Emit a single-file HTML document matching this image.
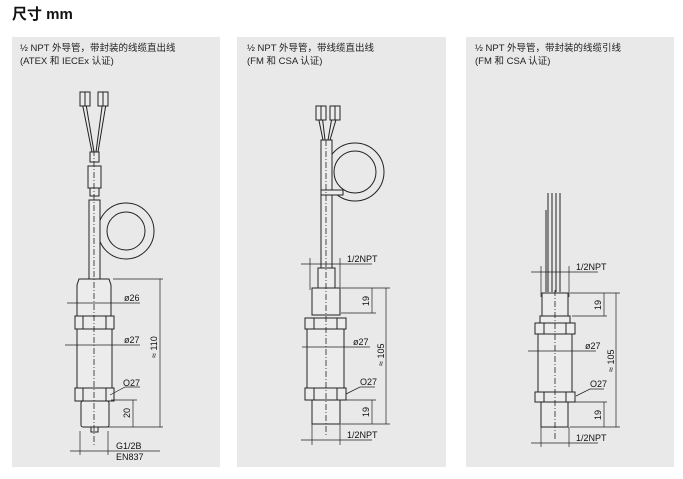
<!DOCTYPE html>
<html><head><meta charset="utf-8"><style>
html,body{margin:0;padding:0;background:#fff;width:683px;height:479px;overflow:hidden}
svg{display:block}
text{font-family:"Liberation Sans","Noto Sans CJK SC",sans-serif}
.t{font-size:9.5px;fill:#222}
.d{font-family:"Liberation Sans Narrow","Liberation Sans",sans-serif;font-size:9px;fill:#111}
.l{stroke:#222;stroke-width:1;fill:none}
.f{stroke:#222;stroke-width:1;fill:#ececec}
.c{stroke:#222;stroke-width:0.8;stroke-dasharray:6,2,1,2;fill:none}
.m{stroke:#222;stroke-width:0.7;fill:none}
</style></head><body>
<svg width="683" height="479" viewBox="0 0 683 479">
<text x="12" y="19" style="font-size:15px;font-weight:bold" fill="#111">尺寸 mm</text>
<rect x="12" y="37" width="208" height="430" fill="#e9e9e9"/>
<rect x="237" y="37" width="209" height="430" fill="#e9e9e9"/>
<rect x="466" y="37" width="208" height="430" fill="#e9e9e9"/>
<text class="t" x="20" y="51">½ NPT 外导管，带封装的线缆直出线</text>
<text class="t" x="20" y="64">(ATEX 和 IECEx 认证)</text>
<text class="t" x="247" y="51">½ NPT 外导管，带线缆直出线</text>
<text class="t" x="247" y="64">(FM 和 CSA 认证)</text>
<text class="t" x="475" y="51">½ NPT 外导管，带封装的线缆引线</text>
<text class="t" x="475" y="64">(FM 和 CSA 认证)</text>

<!-- Panel 1 -->
<g>
<circle cx="126" cy="231" r="28" class="l"/>
<circle cx="126" cy="231" r="19" class="l"/>
<path class="l" d="M80 92 L92 152 M84 92 L94 152 M104 92 L96 152 M108 92 L98 152"/>
<rect class="f" x="80" y="92" width="5" height="14"/><rect class="f" x="85" y="92" width="5" height="14"/>
<rect class="f" x="98" y="92" width="5" height="14"/><rect class="f" x="103" y="92" width="5" height="14"/>
<rect class="f" x="90" y="152" width="9" height="10"/>
<rect class="f" x="88" y="166" width="13" height="22"/>
<rect class="f" x="90" y="188" width="9" height="8"/>
<rect class="f" x="89" y="200" width="11" height="80"/>
<path class="f" d="M79 279 L109 279 L111 285 L111 316 L77 316 L77 285 Z"/>
<rect class="f" x="75" y="316" width="39" height="13"/>
<path class="l" d="M83 316 V329 M106 316 V329"/>
<rect class="f" x="77" y="329" width="35" height="59"/>
<rect class="f" x="75" y="388" width="39" height="13"/>
<path class="l" d="M83 388 V401 M106 388 V401"/>
<rect class="f" x="81" y="401" width="28" height="26" rx="2"/>
<rect class="f" x="91" y="427" width="7" height="5"/>
<line class="c" x1="94" y1="150" x2="94" y2="445"/>
<path class="m" d="M67 303 H140 M65 345 H140 M113 279 H163 M111 400 H137 M99 427 H163 M160 279 V427 M133 400 V427 M70 451 H160 M80 431 V455 M108 431 V455 M110 395 L125 387 H140"/>
<text class="d" x="124" y="301">ø26</text>
<text class="d" x="124" y="343">ø27</text>
<text class="d" x="123" y="386">O27</text>
<text class="d" transform="translate(157 358) rotate(-90)">≈ 110</text>
<text class="d" transform="translate(130 418) rotate(-90)">20</text>
<text class="d" x="116" y="449">G1/2B</text>
<text class="d" x="116" y="460">EN837</text>
</g>

<!-- Panel 2 -->
<g>
<circle cx="355" cy="172" r="29" class="l"/>
<circle cx="355" cy="172" r="21" class="l"/>
<path class="l" d="M316 106 L323 140 M321 106 L325 140 M334 106 L328 140 M340 106 L330 140"/>
<rect class="f" x="316" y="106" width="5" height="14"/><rect class="f" x="321" y="106" width="5" height="14"/>
<rect class="f" x="330" y="106" width="5" height="14"/><rect class="f" x="335" y="106" width="5" height="14"/>
<rect class="f" x="321" y="140" width="11" height="128"/>
<rect class="f" x="321" y="190" width="22" height="5"/>
<rect class="f" x="318" y="268" width="17" height="20"/>
<rect class="f" x="312" y="288" width="28" height="27"/>
<rect class="f" x="305" y="318" width="41" height="11"/>
<path class="l" d="M314 318 V329 M337 318 V329"/>
<rect class="f" x="307" y="329" width="37" height="59"/>
<rect class="f" x="305" y="388" width="41" height="12"/>
<path class="l" d="M314 388 V400 M337 388 V400"/>
<rect class="f" x="312" y="400" width="28" height="24"/>
<line class="c" x1="326" y1="140" x2="326" y2="435"/>
<path class="m" d="M301 264 H372 M310 258 V290 M340 258 V290 M341 288 H390 M341 313 H376 M341 400 H376 M341 424 H390 M372 288 V313 M372 400 V424 M386 288 V424 M302 347 H370 M301 440 H372 M312 424 V445 M340 424 V445 M346 394 L360 387 H375"/>
<text class="d" x="347" y="262">1/2NPT</text>
<text class="d" x="347" y="438">1/2NPT</text>
<text class="d" x="353" y="345">ø27</text>
<text class="d" x="360" y="385">O27</text>
<text class="d" transform="translate(369 306) rotate(-90)">19</text>
<text class="d" transform="translate(369 417) rotate(-90)">19</text>
<text class="d" transform="translate(384 366) rotate(-90)">≈ 105</text>
</g>

<!-- Panel 3 -->
<g>
<path class="l" d="M548 193 V292 M552 193 V292 M556 193 V292 M560 193 V292 M546 210 V292"/>
<rect class="f" x="542" y="293" width="26" height="23"/>
<rect class="f" x="540" y="316" width="30" height="7"/>
<rect class="f" x="535" y="323" width="40" height="11"/>
<path class="l" d="M544 323 V334 M566 323 V334"/>
<rect class="f" x="538" y="334" width="34" height="58"/>
<rect class="f" x="535" y="392" width="40" height="10"/>
<path class="l" d="M544 392 V402 M566 392 V402"/>
<rect class="f" x="541" y="402" width="27" height="25"/>
<line class="c" x1="555" y1="290" x2="555" y2="440"/>
<path class="m" d="M531 272 H598 M541 266 V297 M569 266 V297 M570 293 H620 M572 316 H607 M572 402 H607 M570 427 H620 M604 293 V316 M604 402 V427 M616 293 V427 M528 351 H596 M531 443 H598 M541 427 V447 M569 427 V447 M576 396 L590 389 H604"/>
<text class="d" x="576" y="270">1/2NPT</text>
<text class="d" x="576" y="441">1/2NPT</text>
<text class="d" x="585" y="349">ø27</text>
<text class="d" x="590" y="387">O27</text>
<text class="d" transform="translate(601 310) rotate(-90)">19</text>
<text class="d" transform="translate(601 420) rotate(-90)">19</text>
<text class="d" transform="translate(614 372) rotate(-90)">≈ 105</text>
</g>
</svg>
</body></html>
